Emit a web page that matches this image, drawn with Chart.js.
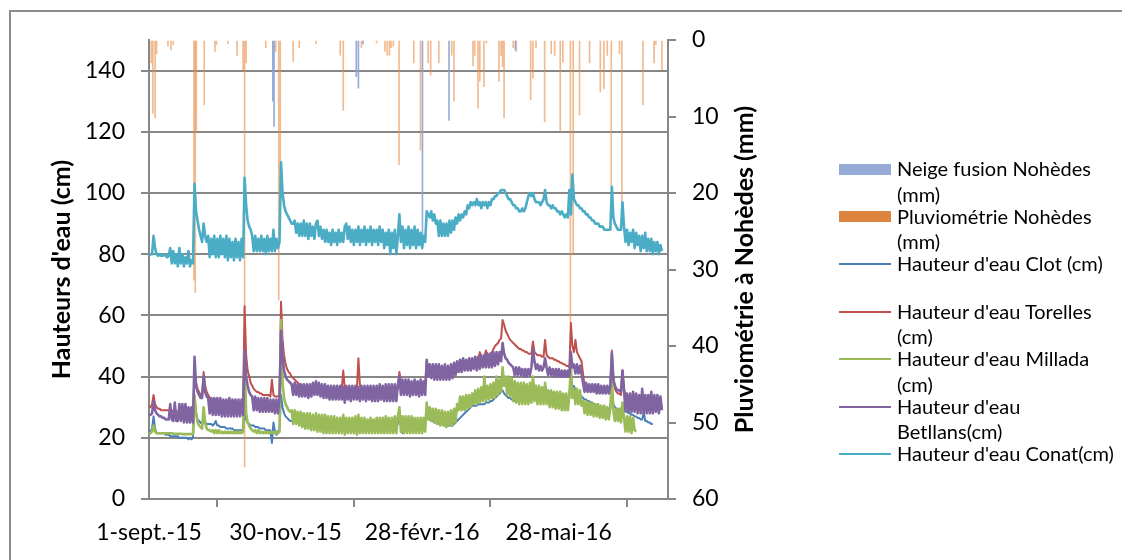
<!DOCTYPE html>
<html><head><meta charset="utf-8">
<script src="https://cdn.jsdelivr.net/npm/chart.js@4.4.1/dist/chart.umd.min.js"></script>
<style>
html,body{margin:0;padding:0;background:#fff;}
#wrap{position:relative;width:1122px;height:560px;overflow:hidden;background:#fff;}
#frame{position:absolute;left:9px;top:10px;width:1200px;height:700px;border:2px solid #8c8c8c;box-sizing:border-box;}
#c{position:absolute;left:0;top:0;}
#legend{position:absolute;left:839px;top:0;font-family:Lato,sans-serif;font-size:20px;color:#000;}
.sw{position:absolute;left:0;width:52px;}
.txt{position:absolute;left:58px;line-height:25.5px;white-space:nowrap;}
</style></head>
<body><div id="wrap"><div id="frame"></div><canvas id="c" width="1122" height="560"></canvas><div id="legend"></div></div>
<script>
// x axis: one value per day starting 1-sept.-2015 (day 0)
const xTickDays = [0, 90, 180, 270];
const xTickLabels = ['1-sept.-15', '30-nov.-15', '28-févr.-16', '28-mai-16'];
const leftTitle = "Hauteurs d'eau (cm)";
const rightTitle = "Pluviométrie à Nohèdes (mm)";

const seriesNames = ["Neige fusion Nohèdes (mm)", "Pluviométrie Nohèdes (mm)", "Hauteur d'eau Clot (cm)", "Hauteur d'eau Torelles (cm)", "Hauteur d'eau Millada (cm)", "Hauteur d'eau Betllans(cm)", "Hauteur d'eau Conat(cm)"];

// rain / snow melt events: day index and mm
const rainDays = [1.5,2.5,4,5,12.5,14.5,16,29.6,30.5,31.2,36.4,43.5,44.5,52,58,62,63,64,77,83.5,85.5,86.5,95,99,110,126,128,140,150,155.5,157,158.5,159.5,161,164.8,174.5,178.9,183.9,185.6,191,199.5,201,213.5,214.6,216.8,218,220.7,222.3,230.6,232,233,234,240,242,251.5,253,255,260.7,265,267.3,271,272.7,277.7,279.5,283.7,290.3,297.4,299.8,302,304.6,310,311.6,325.5,332.8,334,338];
const rainMm   = [3,9.6,10.2,1.8,0.8,1.3,0.6,31.4,33,12,8.5,1.5,0.6,0.5,2,4,55.8,3,1,1.5,34,20,2.8,1,0.5,2,9.2,1,0.4,1.5,2,2,1,0.8,16.3,3,14.4,3,4.6,3,2,8,3.4,2,8.9,5.4,6.1,0.4,5.4,2,3.5,10.2,1,1.5,7.8,5,1,10.7,1.8,2,12,2.9,37,28,9.8,3,6.8,6.4,2,19.2,1.8,21.4,8.5,3,0.6,3.9];
const snowDays = [81.6,82.4,136.6,138,141,180.2,197.7,241.5];
const snowMm   = [8,11.3,4.8,6.3,0.5,26,10.5,1.3];

const clot = [
22,22,23,27,23,21.5,21.5,21.5,21.5,21.5,
21.5,21,21,21,20.5,20.5,20.5,20.5,20.5,20.5,
20,20,20,20,20,20,19.5,20,19.5,20,
33,28,26,25.5,25,24.5,26,25,24.5,24.5,
24.5,24.5,24,24.5,25.5,24,24,23.5,23.5,23.5,
23.5,23,23,23,23,23,22.5,22.5,22.5,22.5,
22.5,22.5,22.5,30,26,25,24.5,24,24,24,
23.5,23.5,23.5,23,23,23,23,22.5,22.5,22.5,
22.5,18.3,25,22,21,22,23,34,30,28,
27,26.5,26,25.5,25.5,25.5,25.5,25,25,25,
25,25,25,25,25,25,25,25,25,25,
25.5,25.5,25,25,25,25,25,24.5,24.5,24.5,
24.5,24.5,24.5,24.5,24.5,24.5,24.5,24.5,26,25,
25,24.5,24.5,24.5,24.5,24.5,24.5,24.5,25.5,24.5,
24.5,24.5,24.5,24.5,24.5,24.5,24.5,24.5,24.5,24.5,
24.5,24.5,24.5,24.5,24.5,24.5,24.5,24.5,24.5,24.5,
24.5,24.5,24.5,24.5,24.5,29,25,21.5,24.5,24.5,
24.5,24.5,24.5,24.5,24.5,24.5,24.5,24.5,24.5,24.5,
24.5,24.5,24.5,27,26.5,26,25.5,25.5,25,25,
25,24.5,24.5,24.5,24.5,24,24,24,24,24,
24,24.5,25,25.5,26,26.5,27,27.5,28,28.5,
29,29.5,30,30.5,30.5,30.5,30.5,31,31,31,
31,31,31.5,31.5,31.5,32,32,32.5,33,33.5,
34,34.5,35,35.5,34.5,34,33.5,33,33,32.5,
32.5,32,32,32,32,32.5,33,33.5,34,34.5,
35,35,35.5,38.5,36.5,36,36,36,35.5,35.5,
35.5,37,35.5,35,35,35,34.5,34.5,34.5,34,
34,34,33.5,33.5,33.5,33.5,33,33,41,36,
37,35.5,35,34.5,34,33.5,33,32.5,32.5,32,
32,31.5,31.5,31,31,30.5,30.5,30,30,29.5,
29.5,29.5,29.5,29.5,29.5,36,31,30,29.5,29.5,
29,29,31,29,28.5,28.5,28,28,27.5,27.5,
27,27,26.5,26.5,26,26,28.5,25.5,25.5,25,
25,24.5,24.5,null,null,null,null,null,null];

const torelles = [
30,30,31,34,31,30,29.5,29.5,29,29,
29,29,29,29,29,29,28.5,29,28.5,28.5,
28.5,28.5,28.5,28.5,28.5,28.5,28.5,28.5,28.5,28.5,
41,38,36,35,34,34,41.5,37,35,34,
33,32.5,32.5,32.5,32.5,32.5,32,32,32,32,
32,32,32,32,32,32,32,31.5,31.5,31.5,
31.5,31.5,32,63,47,42,40,38,37,36,
35.5,35,35,34.5,34.5,34,34,34,34,34,
33.5,39,34,33.5,33.5,33.5,34,64.5,52,47,
44,42.5,41.5,41,40,39.5,39,38.5,38,37.5,
37,37,36.5,36.5,36.5,36.5,36.5,36.5,36.5,36.5,
37,37,36.5,36.5,36.5,36,36,36,36,36,
36,36,36,36,36,36,36,36,42,36,
36,36,36,36,36,36,36,36,46,37,
36,36,36,36,36,36,36,36,36,36,
36,36,36,36,36,36,36,36,36,36,
36,36,36,36,36,41.5,38,37,37,37,
37,37,37,37,37,37,37,37,37,37,
37,37,37,45,43,42,41.5,41.5,41,41,
41,41,41,41,41,41,41,41,41,41.5,
41.5,42,42.5,42.5,42.5,43,43,43,43,43,
43.5,43.5,43.5,44,44.5,45,45.5,45.5,48,46,
46,46.5,48.5,47,47,47.5,48,49,50,50.5,
51,52,52.5,58.5,57,55,54,53,52,51.5,
51,50.5,50,49.5,49,49,48.5,48.5,48,48,
47.5,47.5,47.5,51.5,48,47.5,47,47,47,46.5,
46.5,52,47,46.5,46,46,46,45.5,45.5,45,
45,44.5,44.5,44,44,43.5,43.5,43,57.5,50,
48,52,48,47,46,45,41,37,36.5,36.5,
36.5,36,36,36,36,35.5,35.5,35.5,35.5,35,
35,35,35,35,35,48.5,40,36,35,34.5,
34.5,34,42,36,34,33.5,33.5,33,33,33,
33,32.5,32.5,32.5,32.5,32.5,32,32,32,32,
32,32,31.5,31.5,31.5,31.5,31.5,31.5,31.5];

const millada = [
21.5,21.5,22,24,22,21.5,21.5,21.5,21.5,21.5,
21.5,21.5,21.5,21.5,21.5,21.5,21.3,21.3,21.3,21.3,
21.3,21.3,21.2,21.2,21.2,21.2,21.2,21.2,21.2,21.2,
34,28,25,24,23.5,23,30,25,23,22.5,
22.5,22,22.5,21.5,22.5,21.5,22.5,21.5,22,21.5,
22,21.5,22,21.5,22,21.5,22,21.5,22,21.5,
22,21.5,22,48,28,25,24,23,22.5,22,
22.5,21.5,22.5,21.5,22,21.5,22,21.5,22,21.5,
22,21.5,22,21.5,22,21.5,22,58.5,38,33,
31,30,29,28.5,29,24.5,29,24.5,28.5,24,
28.5,23.5,28,23,28,23,28,22.5,27.5,22.5,
28,22,27.5,22,27.5,21.5,27.5,21.5,27,21.5,
27,21.5,27,21.5,26.5,21.5,26.5,21.5,27.5,21,
26.5,21.5,26.5,21.5,26.5,21.5,27,21,27.5,21.5,
26.5,21.5,26.5,21.5,26,21.5,26.5,21.5,26,21.5,
26.5,21.5,26.5,21.5,26.5,21.5,27,21.5,26.5,21.5,
26.5,21.5,27,21.5,27,30,22,27,21.5,27,
21.5,27,21.5,27,21.5,26.5,21.5,26.5,21.5,26.5,
21.5,26.5,22,31.5,26,30,25.5,29.5,25,29.5,
24.5,29,24,29,24,28.5,23.5,28.5,24,29,
24,29.5,25,31,29,33.5,29,33.5,29,34,
29.5,34,30,34.5,31,35.5,31,36,31.5,36.5,
32,40,32,37,32.5,37.5,33,38,33,40,
34,39,35,43,37,40,34,40,33.5,39.5,
32,38.5,31.5,38,31,38,31,38,31,37.5,
31,38,31.5,40,32,37,31,37,31,36.5,
31,38,31,35.5,30,35.5,30,35,29.5,35,
29.5,35,29,34.5,29,34.5,29,34,43,33,
36,31,36,31,35.5,30.5,32,28,32,27.5,
31.5,27.5,31.5,27,31,27,31,26.5,30.5,26.5,
30.5,26,30,26,30,38.5,29,25.5,29.5,25.5,
29.5,25,31.5,26.5,22,27,22,27,21.5,26.5,
22.5,22,null,null,null,null,null,null,null,null,
null,null,null,null,null,null,null,null,null];

const betllans = [
27.5,27.5,28,32,29,28,27.5,27,27,26.5,
26.5,26,26,26,31,26,25.5,31.5,25.5,25.5,
31,25.5,31,25,31,25,30,25,30,25,
46.5,37,35,34,33,33,40,35,33.5,33,
28,33,27.5,33,27.5,33,27.5,33,27,32.5,
27,32.5,27,33,27,32.5,27,32.5,27,32.5,
27,32.5,27.5,48.5,40,37,35,34,33.5,29,
33.5,29,33,28.5,33,28.5,33,28.5,33,28.5,
32.5,28.5,32.5,28,32.5,28,33,55,46,42,
40,39,38.5,38,37.5,34,38,34,37.5,33.5,
37.5,33.5,37.5,33.5,37.5,33,37.5,33.5,38,34,
38.5,34,38,33.5,37.5,33,37.5,33,37,32.5,
37,32.5,37,32.5,37,32.5,37,32.5,36.5,31.5,
37,32.5,37,32,37,32.5,37,32.5,36.5,32,
37,32.5,37,32,37,32.5,37,32,37,32,
37,32,37.5,32.5,37,32,37.5,32,37.5,32,
37.5,32,37.5,32,37.5,40,34,39,34,39,
34,39,33.5,38.5,34,39,34,38.5,33.5,39,
34,38.5,34,45.5,40,44,39.5,44,39,44,
39,44,39,43.5,39,44,39,43.5,39,44,
39.5,44.5,40.5,45,41.5,45.5,41.5,46,42,45.5,
42,46,42,46,42.5,46.5,42,46.5,42.5,47,
43,47,43,47.5,43,47.5,43,48,43.5,48,
44,48,45,51,47.5,46,45.5,44.5,44,43.5,
43,40.5,43,40.5,43,40.5,42.5,40,42.5,40,
42.5,40.5,43,49,45,42.5,44,42,43.5,42,
43,46,43,40.5,43,40.5,42.5,40,42.5,40,
42.5,40,42,40,42,40,42,40,48,43,
44,41,44,41,43.5,41,38,35,38,35,
37.5,35,37.5,35,37.5,34.5,37.5,34.5,37,34.5,
37,34.5,37,34.5,37,47.5,39,37,36,35.5,
35.5,35,42,35.5,29,34.5,28.5,34.5,28.5,35,
28.5,34.5,28,34,28,36,28,34,28,34,
28,35,28,34,28.5,34,28,33.5,29];

const conat = [
79.5,80,80,86,82,80,79.5,80,79.5,79.5,
80,79.5,79,79.5,82,77,81,77,80,76,
82,77,80,76,79,77,81,76,78,77,
103,94,91,88,86,84,90,86,84,86,
79,85,80,86,79,85,79,86,80,85,
79,86,78,85,79,84,78,85,79,84,
78,85,79,105,96,91,89,88,86,81,
86,81,85,81,86,81,85,80,86,81,
85,81,88,81,85,82,84,110,100,96,
94,93,92,91,90,90,91,87,90,86,
90,86,91,86,90,85,90,86,89,85,
90,91,86,89,85,88,84,88,84,87,
83,88,84,87,83,88,84,87,84,89,
90,85,89,84,88,83,88,84,89,83,
88,84,89,83,88,84,89,83,88,84,
88,83,89,84,88,82,87,83,88,80,
87,82,88,80,86,93,84,89,82,88,
83,89,82,88,83,89,82,88,83,87,
82,86,84,94,93,92,94,91,93,90,
91,86,91,86,90,86,90,86,91,87,
91,88,92,90,93,91,93,92,94,93,
96,95,97,96,97,96,98,96,97,95,
97,96,97,95,97,96,98,98,99,99,
100,100,101,101,101,100,99,98,98,97,
96,96,95,95,94,94,95,94,95,97,
99,100,99,100,98,97,97,97,96,97,
98,101,97,96,96,95,96,95,95,94,
94,93,94,93,92,93,92,101,93,106,
98,97,96,96,95,95,94,94,93,93,
92,92,91,91,90,90,90,89,89,89,
88,88,88,88,88,102,92,90,89,88,
88,88,97,89,84,88,83,87,84,88,
82,87,83,86,81,86,82,87,81,85,
81,85,80,84,81,84,80,83,81];

const colors = {snow:'#95ABD6', rain:'#DD843E', clot:'#4A7EBB', torelles:'#C0504D', millada:'#9BBB59', betllans:'#8064A2', conat:'#4BACC6'};

const daily = arr => arr.map((v, i) => ({x: i, y: v}));
const events = (days, mm) => days.map((d, i) => ({x: d, y: mm[i]}));

const lineDs = (label, arr, color, order, width) => ({
  label, data: daily(arr), borderColor: color, backgroundColor: color, borderWidth: width,
  pointRadius: 0, tension: 0, spanGaps: false, yAxisID: 'y', order, borderJoinStyle: 'round', fill: false
});

Chart.defaults.font.family = 'Lato';
Chart.defaults.color = '#000';
const gridCol = '#878787';

const titlesPlugin = {
  id: 'axisTitles',
  afterDraw(chart) {
    const c = chart.ctx, a = chart.chartArea;
    const midY = (a.top + a.bottom) / 2;
    [[leftTitle, 62], [rightTitle, 745]].forEach(([txt, x]) => {
      c.save();
      c.font = 'bold 25px Lato';
      c.fillStyle = '#000';
      c.textAlign = 'center';
      c.textBaseline = 'middle';
      c.translate(x, midY); c.rotate(-Math.PI / 2); c.fillText(txt, 0, 0);
      c.restore();
    });
  }
};

new Chart(document.getElementById('c'), {
  type: 'line',
  data: { datasets: [
    { label: seriesNames[0], type: 'bar', data: events(snowDays, snowMm), yAxisID: 'y2', backgroundColor: 'rgba(140,162,210,0.9)', barThickness: 1, grouped: false, order: 6 },
    { label: seriesNames[1], type: 'bar', data: events(rainDays, rainMm), yAxisID: 'y2', backgroundColor: 'rgba(232,140,70,0.6)', barThickness: 1, grouped: false, order: 7 },
    lineDs(seriesNames[2], clot, colors.clot, 5, 2),
    lineDs(seriesNames[3], torelles, colors.torelles, 4, 2),
    lineDs(seriesNames[4], millada, colors.millada, 3, 2.6),
    lineDs(seriesNames[5], betllans, colors.betllans, 2, 2.6),
    lineDs(seriesNames[6], conat, colors.conat, 1, 2.6)
  ]},
  options: {
    responsive: false, animation: false, devicePixelRatio: 1,
    layout: { padding: { left: 0, top: 40, right: 394, bottom: 0 } },
    plugins: { legend: { display: false }, tooltip: { enabled: false } },
    scales: {
      x: {
        type: 'linear', min: 0, max: 342, offset: false,
        afterBuildTicks: s => { s.ticks = xTickDays.map(v => ({ value: v })); },
        afterFit: s => { s.height = 61; },
        ticks: { font: { size: 23 }, padding: 12, maxRotation: 0, autoSkip: false,
          callback: v => xTickLabels[xTickDays.indexOf(v)] },
        grid: { drawOnChartArea: false, drawTicks: true, tickLength: 8, color: gridCol, lineWidth: 2 },
        border: { display: true, color: gridCol, width: 2 }
      },
      y: {
        type: 'linear', position: 'left', min: 0, max: 150,
        afterFit: s => { s.width = 149; },
        ticks: { stepSize: 20, includeBounds: false, font: { size: 23 }, padding: 16 },
        grid: { color: gridCol, lineWidth: 2, tickLength: 8, drawTicks: true },
        border: { display: true, color: gridCol, width: 2 }
      },
      y2: {
        type: 'linear', position: 'right', min: 0, max: 60, reverse: true,
        afterFit: s => { s.width = 60; },
        ticks: { stepSize: 10, font: { size: 23 }, padding: 16 },
        grid: { drawOnChartArea: false, tickLength: 8, color: gridCol, lineWidth: 2 },
        border: { display: true, color: gridCol, width: 2 }
      }
    }
  },
  plugins: [titlesPlugin]
});

// legend (HTML)
const legendItems = [
  { lines: ["Neige fusion Nohèdes", "(mm)"], color: colors.snow, kind: 'box' },
  { lines: ["Pluviométrie Nohèdes", "(mm)"], color: colors.rain, kind: 'box' },
  { lines: ["Hauteur d'eau Clot (cm)", ""], color: colors.clot, kind: 'line' },
  { lines: ["Hauteur d'eau Torelles", "(cm)"], color: colors.torelles, kind: 'line' },
  { lines: ["Hauteur d'eau Millada", "(cm)"], color: colors.millada, kind: 'line' },
  { lines: ["Hauteur d'eau", "Betllans(cm)"], color: colors.betllans, kind: 'line' },
  { lines: ["Hauteur d'eau Conat(cm)"], color: colors.conat, kind: 'line' }
];
const legendTop = 169, legendStep = 47.5;
const lg = document.getElementById('legend');
legendItems.forEach((it, i) => {
  const cy = legendTop + i * legendStep;
  const sw = document.createElement('div');
  sw.className = 'sw';
  sw.style.background = it.color;
  if (it.kind === 'box') { sw.style.height = '11px'; sw.style.top = (cy - 5.5) + 'px'; }
  else { sw.style.height = '2px'; sw.style.top = (cy - 1) + 'px'; }
  lg.appendChild(sw);
  const t = document.createElement('div');
  t.className = 'txt';
  t.style.top = (cy - 12.75) + 'px';
  t.innerHTML = it.lines.map(s => s === '' ? '&nbsp;' : s.replace(/&/g,'&amp;')).join('<br>');
  lg.appendChild(t);
});
</script>
</body></html>
